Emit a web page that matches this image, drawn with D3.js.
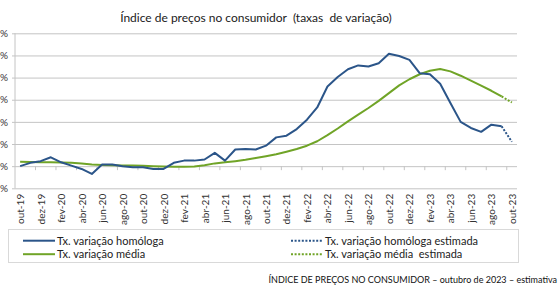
<!DOCTYPE html>
<html>
<head>
<meta charset="utf-8">
<script src="https://cdn.jsdelivr.net/npm/d3@7"></script>
<style>
  body { margin: 0; background: #fff; }
  svg { display: block; font-family: Lato, "Open Sans", sans-serif; }
</style>
</head>
<body>
<svg id="chart" width="560" height="293"></svg>
<script>
// meses (out-19 .. out-23)
const months = ["out-19","nov-19","dez-19",
  "jan-20","fev-20","mar-20","abr-20","mai-20","jun-20","jul-20","ago-20","set-20","out-20","nov-20","dez-20",
  "jan-21","fev-21","mar-21","abr-21","mai-21","jun-21","jul-21","ago-21","set-21","out-21","nov-21","dez-21",
  "jan-22","fev-22","mar-22","abr-22","mai-22","jun-22","jul-22","ago-22","set-22","out-22","nov-22","dez-22",
  "jan-23","fev-23","mar-23","abr-23","mai-23","jun-23","jul-23","ago-23","set-23","out-23"];

// taxa de variação homóloga, out-19 .. set-23
const homologa = [0.0, 0.3, 0.45,
  0.8, 0.35, 0.05, -0.25, -0.7, 0.15, 0.15, 0.0, -0.1, -0.1, -0.25, -0.25,
  0.3, 0.5, 0.5, 0.6, 1.2, 0.5, 1.5, 1.55, 1.5, 1.85, 2.6, 2.75,
  3.35, 4.2, 5.3, 7.2, 8.05, 8.75, 9.1, 9.0, 9.3, 10.15, 9.95, 9.6,
  8.4, 8.3, 7.45, 5.7, 4.0, 3.45, 3.1, 3.75, 3.6];

// taxa de variação média (12 meses), out-19 .. set-23
const media = [0.4, 0.38, 0.36,
  0.35, 0.33, 0.3, 0.25, 0.15, 0.1, 0.08, 0.06, 0.05, 0.03, 0.0, -0.02,
  -0.05, -0.05, -0.03, 0.08, 0.25, 0.35, 0.45, 0.57, 0.73, 0.89, 1.07, 1.3,
  1.55, 1.85, 2.25, 2.8, 3.4, 4.05, 4.65, 5.25, 5.9, 6.6, 7.3, 7.85,
  8.3, 8.62, 8.78, 8.56, 8.17, 7.72, 7.27, 6.81, 6.3];

// estimativas
const estMonths = ["set-23", "out-23"];
const homologaEst = [3.6, 2.2];
const mediaEst = [6.3, 5.75];

const yTicks = [-2, 0, 2, 4, 6, 8, 10, 12];

const blue = "#2b5589";
const green = "#70a427";
const gridColor = "#c4c4c4";

const legendItems = [
  {label: "Tx. variação homóloga", color: blue, dash: null, col: 0, row: 0},
  {label: "Tx. variação média", color: green, dash: null, col: 0, row: 1},
  {label: "Tx. variação homóloga estimada", color: blue, dash: "2,1.6", col: 1, row: 0},
  {label: "Tx. variação média  estimada", color: green, dash: "2,1.6", col: 1, row: 1}
];

const plotLeft = 15, plotRight = 517, plotTop = 33.3, plotBottom = 188.3;

const svg = d3.select("#chart");

const x = d3.scaleBand().domain(months).range([plotLeft, plotRight]);
const cx = m => x(m) + x.bandwidth() / 2;
const y = d3.scaleLinear().domain([-2, 12]).range([plotBottom, plotTop]);

// title
svg.append("text")
  .attr("x", 256)
  .attr("y", 21.5)
  .attr("text-anchor", "middle")
  .style("font-size", "12px")
  .attr("fill", "#1a1a1a")
  .attr("xml:space", "preserve")
  .text("Índice de preços no consumidor  (taxas  de variação)");

// y grid + labels
const yAxis = d3.axisLeft(y)
  .tickValues(yTicks)
  .tickSize(-(plotRight - plotLeft + 3))
  .tickPadding(-1)
  .tickFormat(d => d + "%");

const gy = svg.append("g")
  .attr("transform", "translate(" + (plotLeft - 3) + ",0)")
  .call(yAxis);
gy.select(".domain").remove();
gy.selectAll(".tick line").attr("stroke", gridColor);
gy.selectAll(".tick text")
  .attr("x", -4)
  .style("font-size", "10px")
  .style("font-family", "Lato, sans-serif")
  .attr("fill", "#333");

// vertical axis line
svg.append("line")
  .attr("x1", plotLeft).attr("x2", plotLeft)
  .attr("y1", plotTop).attr("y2", plotBottom)
  .attr("stroke", gridColor);

// x ticks at category boundaries, every 2 months, hanging from 0%
svg.append("g")
  .selectAll("line")
  .data(months.filter((m, i) => i % 2 === 0 && i > 0))
  .join("line")
  .attr("x1", d => x(d)).attr("x2", d => x(d))
  .attr("y1", y(0)).attr("y2", y(0) + 4)
  .attr("stroke", gridColor);

// x labels (bottom of plot area)
svg.append("g")
  .selectAll("text")
  .data(months.filter((m, i) => i % 2 === 0))
  .join("text")
  .attr("transform", d => "translate(" + (cx(d) + 0.5) + "," + (plotBottom + 5.5) + ") rotate(-90)")
  .attr("text-anchor", "end")
  .attr("dy", "0.35em")
  .style("font-size", "10px")
  .attr("fill", "#333")
  .text(d => d);

// lines
const line = d3.line()
  .x(d => cx(d.m))
  .y(d => y(d.v));

const homData = homologa.map((v, i) => ({m: months[i], v: v}));
const medData = media.map((v, i) => ({m: months[i], v: v}));

svg.append("path")
  .datum(medData)
  .attr("fill", "none")
  .attr("stroke", green)
  .attr("stroke-width", 2)
  .attr("stroke-linejoin", "round")
  .attr("d", line);

svg.append("path")
  .datum(homData)
  .attr("fill", "none")
  .attr("stroke", blue)
  .attr("stroke-width", 2)
  .attr("stroke-linejoin", "round")
  .attr("d", line);

svg.append("path")
  .datum(mediaEst.map((v, i) => ({m: estMonths[i], v: v})))
  .attr("fill", "none")
  .attr("stroke", green)
  .attr("stroke-width", 2)
  .attr("stroke-dasharray", "2,1.6")
  .attr("d", line);

svg.append("path")
  .datum(homologaEst.map((v, i) => ({m: estMonths[i], v: v})))
  .attr("fill", "none")
  .attr("stroke", blue)
  .attr("stroke-width", 2)
  .attr("stroke-dasharray", "2,1.6")
  .attr("d", line);

// legend
svg.append("rect")
  .attr("x", 8.5).attr("y", 229.5)
  .attr("width", 510).attr("height", 33)
  .attr("fill", "#fff")
  .attr("stroke", "#d9d9d9");

const colX = [23, 291];
const rowY = [240.7, 254.2];

const leg = svg.append("g")
  .selectAll("g")
  .data(legendItems)
  .join("g")
  .attr("transform", d => "translate(" + colX[d.col] + "," + rowY[d.row] + ")");

leg.append("line")
  .attr("x1", 0).attr("x2", 32)
  .attr("stroke", d => d.color)
  .attr("stroke-width", 2)
  .attr("stroke-dasharray", d => d.dash);

leg.append("text")
  .attr("x", 34)
  .attr("dy", "0.35em")
  .attr("xml:space", "preserve")
  .style("font-size", "11px")
  .attr("fill", "#222")
  .text(d => d.label);

// footer
svg.append("text")
  .attr("x", 557)
  .attr("y", 283)
  .attr("text-anchor", "end")
  .style("font-size", "9px")
  .attr("fill", "#111")
  .text("ÍNDICE DE PREÇOS NO CONSUMIDOR – outubro de 2023 – estimativa");
</script>
</body>
</html>
